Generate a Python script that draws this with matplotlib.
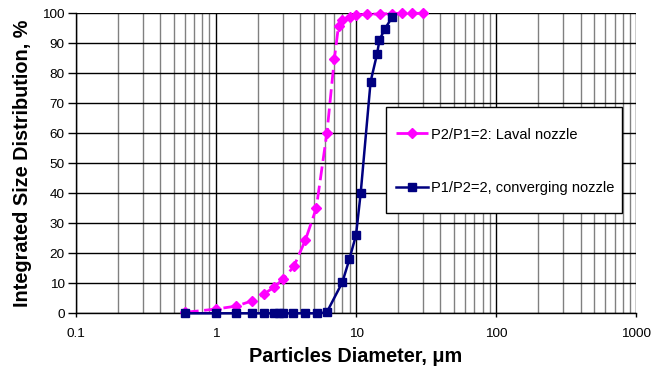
import matplotlib.pyplot as plt
from matplotlib.patches import Rectangle
from matplotlib.ticker import LogLocator, FixedLocator, NullFormatter

plt.rcParams['font.family'] = ['Liberation Sans', 'DejaVu Sans']

# particle size bins, um
laval_d = [0.6, 1.0, 1.4, 1.8, 2.2, 2.6, 3.0, 3.6, 4.35, 5.2, 6.2, 7.0, 7.5,
           8.0, 9.0, 10.0, 12.0, 14.8, 18.0, 21.2, 25.0, 30.0]
laval_pct = [0.3, 1.4, 2.4, 4.1, 6.4, 8.7, 11.3, 15.6, 24.4, 35.0, 60.2, 84.7,
             95.9, 97.8, 98.9, 99.4, 99.7, 99.8, 99.9, 100.0, 100.0, 100.0]

conv_d = [0.6, 1.0, 1.4, 1.8, 2.2, 2.6, 2.8, 3.0, 3.57, 4.35, 5.24, 6.18,
          7.98, 8.96, 10.0, 10.8, 12.7, 14.1, 14.7, 16.0, 18.1]
conv_pct = [0, 0, 0, 0, 0, 0, 0, 0, 0, 0, 0, 0.3,
            10.3, 18.0, 26.1, 40.2, 77.2, 86.3, 91.1, 94.7, 98.7]

x_ticks = [0.1, 1, 10, 100, 1000]
x_tick_labels = ['0.1', '1', '10', '100', '1000']
y_ticks = list(range(0, 101, 10))

fig = plt.figure(figsize=(6.69, 3.76), dpi=100)
ax = fig.add_axes([0.1132, 0.1668, 0.8380, 0.7978])

ax.set_xscale('log')
ax.set_xlim(0.1, 1000)
ax.set_ylim(0, 100)

# grid: black decades / gray sub-decades, black horizontal lines
ax.xaxis.set_major_locator(FixedLocator(x_ticks))
ax.xaxis.set_minor_locator(LogLocator(base=10, subs=range(2, 10)))
ax.xaxis.set_minor_formatter(NullFormatter())
ax.set_xticklabels(x_tick_labels)
ax.set_yticks(y_ticks)
ax.grid(which='minor', axis='x', color='#808080', lw=1.0)
ax.grid(which='major', axis='x', color='black', lw=1.0)
ax.grid(which='major', axis='y', color='black', lw=1.0)
ax.set_axisbelow(True)

ax.tick_params(which='major', direction='out', width=1, labelsize=9.7)
ax.tick_params(axis='x', length=3, pad=7.4)
ax.tick_params(axis='y', length=5.5, pad=2.5)
ax.tick_params(which='minor', length=0)

for s in ['top', 'right']:
    ax.spines[s].set_visible(False)
for s in ['left', 'bottom']:
    ax.spines[s].set_color('black')
    ax.spines[s].set_linewidth(1)

ax.plot(laval_d, laval_pct, color='#FF00FF', lw=2, ls=(0, (5, 2)),
        marker='D', ms=5, mfc='#FF00FF', mec='#FF00FF',
        label='P2/P1=2: Laval nozzle', zorder=3, clip_on=False)
ax.plot(conv_d, conv_pct, color='#000080', lw=1.8, ls='-',
        marker='s', ms=6.3, mfc='#000080', mec='#000080',
        label='P1/P2=2, converging nozzle', zorder=4, clip_on=False)

ax.set_xlabel('Particles Diameter, \u03bcm', fontsize=14.3, fontweight='bold',
              labelpad=5)
ax.set_ylabel('Integrated Size Distribution, %', fontsize=14.3,
              fontweight='bold', labelpad=7)

# legend box drawn separately so it can be taller than the entries
ax.add_patch(Rectangle((0.5535, 0.3343), 0.421, 0.3534, transform=ax.transAxes,
                       facecolor='white', edgecolor='black', lw=1, zorder=5))
leg = ax.legend(loc='center', bbox_to_anchor=(0.7656, 0.5067),
                frameon=False, fontsize=10.5, labelspacing=2.7,
                handlelength=2.2, handletextpad=0.2, borderpad=0)
leg.set_zorder(6)

fig.savefig('out.png', dpi=100)
